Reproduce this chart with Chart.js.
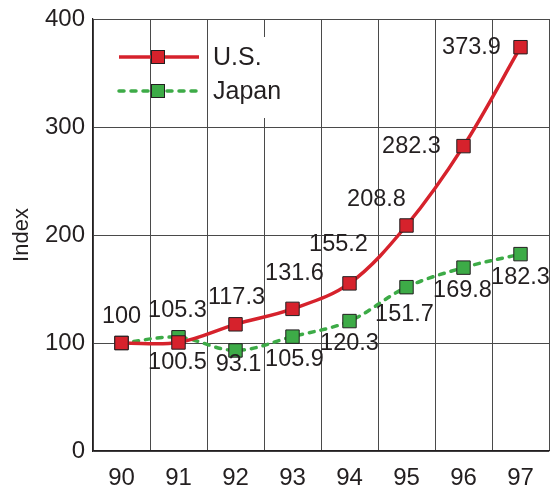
<!DOCTYPE html>
<html>
<head>
<meta charset="utf-8">
<script src="https://cdn.jsdelivr.net/npm/chart.js@4.4.1/dist/chart.umd.min.js"></script>
<style>
  html, body { margin: 0; padding: 0; background: #fff; }
  #wrap { width: 550px; height: 493px; }
</style>
</head>
<body>
<div id="wrap"><canvas id="c" width="550" height="493"></canvas></div>
<script>
// Index values, 1990 = 100
const years = ['90', '91', '92', '93', '94', '95', '96', '97'];
const usIndex = [100, 100.5, 117.3, 131.6, 155.2, 208.8, 282.3, 373.9];
const japanIndex = [100, 105.3, 93.1, 105.9, 120.3, 151.7, 169.8, 182.3];
const yTicks = [0, 100, 200, 300, 400];

const FONT = '"Liberation Sans", Arial, Helvetica, sans-serif';
const TEXT = '#231f20';
const RED = '#d6222c';
const GREEN = '#3dab47';

// Where each value label sits relative to its point: [dx, dy], null = no label
const usLabelOffsets = [[0, -26], [-1, 20], [1, -27], [2, -35], [-11, -39], [-30, -26], [-52, 0], [-49, 0]];
const japanLabelOffsets = [null, [-1, -27], [3, 14], [2, 23], [0, 22], [-2, 27], [-1, 23], [0, 23]];

const valueLabels = {
  id: 'valueLabels',
  afterDatasetsDraw(chart) {
    const ctx = chart.ctx;
    ctx.save();
    ctx.font = '23.5px ' + FONT;
    ctx.fillStyle = TEXT;
    ctx.textAlign = 'center';
    ctx.textBaseline = 'middle';
    chart.data.datasets.forEach((ds, di) => {
      const meta = chart.getDatasetMeta(di);
      const offs = ds.labelOffsets;
      meta.data.forEach((pt, i) => {
        const o = offs[i];
        if (!o) return;
        ctx.fillText(String(ds.data[i]), pt.x + o[0], pt.y + o[1]);
      });
    });
    ctx.restore();
  }
};

// Legend drawn inside the plot, top-left
const insideLegend = {
  id: 'insideLegend',
  afterDraw(chart) {
    const ctx = chart.ctx;
    const rows = [
      { y: 57, ds: chart.data.datasets[0] },
      { y: 91, ds: chart.data.datasets[1] }
    ];
    ctx.save();
    ctx.fillStyle = '#fff';
    ctx.fillRect(209, 37, 82, 81);
    rows.forEach(r => {
      const ds = r.ds;
      ctx.save();
      ctx.strokeStyle = ds.borderColor;
      ctx.lineWidth = ds.borderWidth;
      ctx.lineCap = ds.borderCapStyle || 'butt';
      ctx.setLineDash(ds.borderDash || []);
      ctx.beginPath();
      ctx.moveTo(119, r.y);
      ctx.lineTo(199, r.y);
      ctx.stroke();
      ctx.restore();
      ctx.fillStyle = ds.pointBackgroundColor;
      ctx.strokeStyle = ds.pointBorderColor;
      ctx.lineWidth = 1;
      ctx.fillRect(151.5, r.y - 6.5, 13, 13);
      ctx.strokeRect(151.5, r.y - 6.5, 13, 13);
      ctx.fillStyle = TEXT;
      ctx.font = '25px ' + FONT;
      ctx.textAlign = 'left';
      ctx.textBaseline = 'middle';
      ctx.fillText(ds.label, 213, r.y + 1);
    });
    ctx.restore();
  }
};

new Chart(document.getElementById('c'), {
  type: 'line',
  data: {
    labels: years,
    datasets: [
      {
        label: 'U.S.',
        data: usIndex,
        labelOffsets: usLabelOffsets,
        borderColor: RED,
        borderWidth: 3.5,
        backgroundColor: RED,
        pointStyle: 'rect',
        pointRadius: 9.5,
        pointHoverRadius: 9.5,
        pointBackgroundColor: RED,
        pointBorderColor: TEXT,
        pointBorderWidth: 1,
        tension: 0.35,
        fill: false
      },
      {
        label: 'Japan',
        data: japanIndex,
        labelOffsets: japanLabelOffsets,
        borderColor: GREEN,
        borderWidth: 3.5,
        borderDash: [5, 7],
        borderCapStyle: 'round',
        backgroundColor: GREEN,
        pointStyle: 'rect',
        pointRadius: 9.5,
        pointHoverRadius: 9.5,
        pointBackgroundColor: GREEN,
        pointBorderColor: TEXT,
        pointBorderWidth: 1,
        tension: 0.35,
        fill: false
      }
    ]
  },
  options: {
    responsive: false,
    animation: false,
    devicePixelRatio: 1,
    layout: { autoPadding: false, padding: { top: 19, right: 1, bottom: 0, left: 0 } },
    plugins: {
      legend: { display: false },
      tooltip: { enabled: false },
      title: { display: false }
    },
    scales: {
      x: {
        type: 'category',
        offset: true,
        grid: { offset: true, color: '#4a4a4a', lineWidth: 1, drawTicks: false },
        border: { color: TEXT, width: 1.2 },
        ticks: { color: TEXT, font: { family: FONT, size: 24 }, padding: 13, maxRotation: 0 },
        afterFit(scale) {
          scale.height = 42;
          scale.paddingLeft = 0;
          scale.paddingRight = 0;
        }
      },
      y: {
        min: 0,
        max: 400,
        afterBuildTicks(scale) { scale.ticks = yTicks.map(v => ({ value: v })); },
        grid: { color: '#4a4a4a', lineWidth: 1, drawTicks: false },
        border: { color: TEXT, width: 1.2 },
        ticks: { color: TEXT, font: { family: FONT, size: 24 }, padding: 8 },
        title: {
          display: true,
          text: 'Index',
          color: TEXT,
          font: { family: FONT, size: 22 },
          padding: { top: 9, bottom: 0 }
        },
        afterFit(scale) {
          scale.width = 93;
          scale.paddingTop = 0;
          scale.paddingBottom = 0;
        }
      }
    }
  },
  plugins: [valueLabels, insideLegend]
});
</script>
</body>
</html>
